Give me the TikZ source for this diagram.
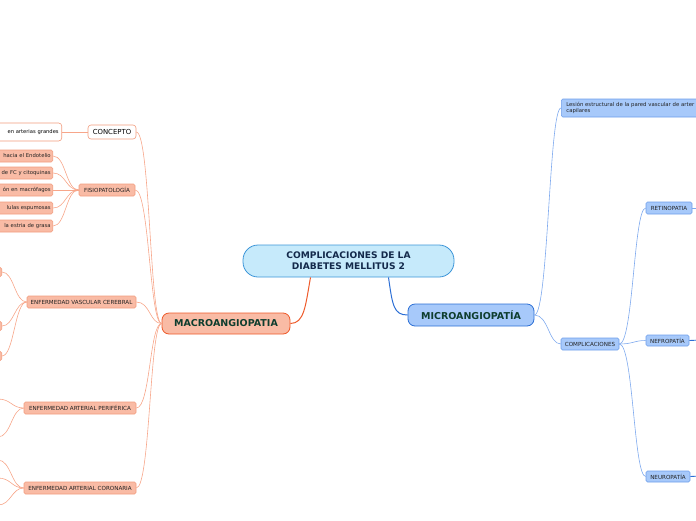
\documentclass[tikz,border=0pt]{standalone}
\usepackage{fontspec}
\setmainfont{DejaVu Sans}
\usetikzlibrary{calc}
\definecolor{salfill}{HTML}{F9BBA5}
\definecolor{salline}{HTML}{F7A68A}
\definecolor{salborder}{HTML}{F29C7E}
\definecolor{macroborder}{HTML}{EE5A2A}
\definecolor{rootfill}{HTML}{C6EAFB}
\definecolor{rootborder}{HTML}{3C95D8}
\definecolor{microfill}{HTML}{A7C9FA}
\definecolor{microborder}{HTML}{2C6FD5}
\definecolor{bluechild}{HTML}{6E9EEA}
\definecolor{blueline}{HTML}{7EA9EE}
\definecolor{darkgreen}{HTML}{0E3D2E}
\definecolor{navy}{HTML}{13294B}
\definecolor{smalltext}{HTML}{222222}
\begin{document}
\begin{tikzpicture}[x=1pt,y=-1pt,
  rootbox/.style={draw=rootborder,fill=rootfill,line width=0.8pt,rounded corners=15pt,
    align=center,font=\fontsize{9.1}{11}\selectfont\bfseries,text=navy,inner sep=0pt},
  mainbox/.style={line width=0.8pt,rounded corners=7pt,font=\fontsize{9.5}{11}\selectfont\bfseries,
    text=darkgreen,inner sep=0pt},
  salbox/.style={draw=salborder,fill=salfill,line width=0.6pt,rounded corners=1.5pt,
    font=\fontsize{5.6}{6.5}\selectfont,text=smalltext,inner sep=0pt},
  whitebox/.style={draw=salborder,fill=white,line width=0.6pt,rounded corners=3pt,
    font=\fontsize{6.9}{8}\selectfont,text=black,inner sep=0pt},
  bluebox/.style={draw=bluechild,fill=microfill,line width=0.6pt,rounded corners=1.5pt,
    font=\fontsize{5.6}{6.5}\selectfont,text=smalltext,inner sep=0pt},
  salconn/.style={draw=salline,line width=0.6pt},
  blueconn/.style={draw=blueline,line width=0.6pt},
]
\useasboundingbox (0,0) rectangle (696,520);
\clip (0,0) rectangle (696,520);

% root and main branches
\node[rootbox,minimum width=211,minimum height=32] (root) at (348.5,261) {COMPLICACIONES DE LA\\DIABETES MELLITUS 2};
\node[mainbox,draw=macroborder,fill=salfill,minimum width=128,minimum height=21] (macro) at (226,323.5) {MACROANGIOPATIA};
\node[mainbox,draw=microborder,fill=microfill,minimum width=126,minimum height=22] (micro) at (471,315) {MICROANGIOPATÍA};

\draw[draw=macroborder,line width=1pt] ($(root.south)+(-38,0)$) .. controls +(-5,28) and +(14,0) .. (macro.east);
\draw[draw=microborder,line width=1pt] ($(root.south)+(40,0)$) .. controls +(4,28) and +(-14,0) .. (micro.west);

% macro children
\node[whitebox,minimum width=48,minimum height=14] (concepto) at (112,132) {CONCEPTO};
\node[whitebox,anchor=east,minimum width=120,minimum height=18,text width=114,align=right,
  font=\fontsize{5.2}{6}\selectfont] (conc1) at (62,132) {en arterias grandes};
\node[salbox,minimum width=56,minimum height=12] (fisio) at (107,190) {FISIOPATOLOGÍA};
\foreach \n/\yy/\t in {f1/156/hacia el Endotelio, f2/173/de FC y citoquinas, f3/190/ón en macrófagos, f4/208/lulas espumosas, f5/226/la estria de grasa}{
  \node[salbox,anchor=east,minimum width=110,minimum height=12,text width=106,align=right,
    font=\fontsize{5.3}{6.5}\selectfont] (\n) at (53,\yy) {\t};
  \draw[salconn] (\n.east) .. controls +(13,0) and +(-13,0) .. (fisio.west);
}
\node[salbox,minimum width=109,minimum height=12] (evc) at (81.5,302) {ENFERMEDAD VASCULAR CEREBRAL};
\node[salbox,minimum width=112,minimum height=12] (eap) at (80,408) {ENFERMEDAD ARTERIAL PERIFÉRICA};
\node[salbox,minimum width=112,minimum height=12] (eac) at (80,488) {ENFERMEDAD ARTERIAL CORONARIA};

\draw[salconn] (conc1.east) -- (concepto.west);
\foreach \c in {concepto,fisio,evc,eap,eac}{
  \draw[salconn] (\c.east) .. controls +(14,0) and +(-12,0) .. (macro.west);
}

% cerebral children (mostly off-canvas)
\foreach \n/\yy in {v1/272, v2/326, v3/356}{
  \node[salbox,anchor=east,minimum width=60,minimum height=9] (\n) at (2,\yy) {};
  \draw[salconn] (\n.east) .. controls +(12,0) and +(-12,0) .. (evc.west);
}
% peripheral and coronary children (off-canvas)
\coordinate (p1) at (-2,399);
\coordinate (p2) at (-2,437);
\coordinate (c1) at (-2,460);
\coordinate (c2) at (-2,478);
\coordinate (c3) at (-2,505);
\foreach \n in {p1,p2}{\draw[salconn] (\n) .. controls +(13,0) and +(-12,0) .. (eap.west);}
\foreach \n in {c1,c2,c3}{\draw[salconn] (\n) .. controls +(13,0) and +(-12,0) .. (eac.west);}

% micro children
\node[bluebox,anchor=west,minimum width=150,minimum height=18,text width=146,align=left,
  font=\fontsize{5.35}{6.5}\selectfont] (lesion) at (561,108) {\hspace*{3pt}Lesión estructural de la pared vascular de arter\\\hspace*{3pt}capilares};
\node[bluebox,minimum width=58,minimum height=12] (compl) at (590,344) {COMPLICACIONES};
\draw[blueconn] (micro.east) .. controls +(14,0) and +(-12,0) .. (lesion.west);
\draw[blueconn] (micro.east) .. controls +(14,0) and +(-12,0) .. (compl.west);

\node[bluebox,minimum width=46,minimum height=12] (retino) at (669,208) {RETINOPATIA};
\node[bluebox,minimum width=43,minimum height=11] (nefro) at (667.5,340.5) {NEFROPATÍA};
\node[bluebox,minimum width=44,minimum height=11] (neuro) at (668,476.5) {NEUROPATÍA};
\foreach \c in {retino,nefro,neuro}{
  \draw[blueconn] (compl.east) .. controls +(14,0) and +(-12,0) .. (\c.west);
}
\coordinate (r1) at (700,208);
\coordinate (n1) at (700,340);
\coordinate (u1) at (700,476);
\draw[blueconn] (retino.east) -- (r1);
\draw[draw=microborder,line width=0.9pt] (nefro.east) -- (n1);
\draw[draw=microborder,line width=0.9pt] (neuro.east) -- (u1);
\end{tikzpicture}
\end{document}
